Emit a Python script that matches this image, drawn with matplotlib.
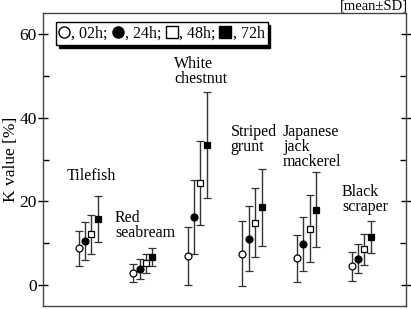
import numpy as np
import matplotlib
matplotlib.use("Agg")
import matplotlib.pyplot as plt
from matplotlib.lines import Line2D

plt.rcParams.update({"font.family": ["Liberation Serif", "DejaVu Serif"], "font.size": 11})

species = ["Tilefish", "Red\nseabream", "White\nchestnut", "Striped\ngrunt",
           "Japanese\njack\nmackerel", "Black\nscraper"]
times = ["02h", "24h", "48h", "72h"]

# K value means per species, one row per storage time
mean_02h = [8.8, 2.9, 6.9, 7.5, 6.4, 4.5]
mean_24h = [10.5, 3.9, 16.2, 11.1, 9.8, 6.3]
mean_48h = [12.1, 5.2, 24.4, 14.9, 13.5, 8.6]
mean_72h = [15.7, 6.7, 33.5, 18.6, 18.0, 11.5]

sd_02h = [4.2, 2.2, 6.9, 7.8, 5.6, 3.5]
sd_24h = [4.5, 2.4, 8.8, 7.7, 6.5, 3.5]
sd_48h = [4.6, 2.3, 10.1, 8.2, 8.0, 3.7]
sd_72h = [5.5, 2.2, 12.6, 9.2, 9.0, 3.9]

# label anchors (left x, top y) in data units
label_pos = [(0.61, 28.0), (1.49, 18.0), (2.57, 54.8), (3.61, 38.5), (4.57, 38.5), (5.65, 24.2)]

means = [mean_02h, mean_24h, mean_48h, mean_72h]
sds = [sd_02h, sd_24h, sd_48h, sd_72h]
styles = [("o", "white"), ("o", "black"), ("s", "white"), ("s", "black")]
offsets = [-0.175, -0.06, 0.055, 0.175]

fig = plt.figure(figsize=(4.11, 3.09), dpi=100)
ax = fig.add_axes([0.1046, 0.0097, 0.883, 0.948])

x = np.arange(1, len(species) + 1)
for m, s, (mk, fc), off in zip(means, sds, styles, offsets):
    ax.errorbar(x + off, m, yerr=s, fmt=mk, ms=5, mfc=fc, mec="black", mew=0.9,
                ecolor="#333333", elinewidth=1.0, capsize=2.8, capthick=1.0, zorder=3)

for name, (lx, ly) in zip(species, label_pos):
    ax.text(lx, ly, name, ha="left", va="top", fontsize=11.5, linespacing=0.92)

ax.set_xlim(0.17, 6.82)
ax.set_ylim(-5, 65)
ax.set_xticks([])
ax.set_yticks([0, 20, 40, 60])
ax.set_yticks([10, 30, 50], minor=True)
ax.tick_params(axis="y", which="major", direction="inout", length=7, width=1,
               labelsize=12.5, right=True, pad=1)
ax.tick_params(axis="y", which="minor", direction="in", length=4, width=1, right=True)
ax.set_ylabel("K value [%]", fontsize=12.5)
ax.yaxis.set_label_coords(-0.066, 0.5)
for sp in ax.spines.values():
    sp.set_color("#444444")
    sp.set_linewidth(1.0)

handles = [Line2D([], [], ls="none", marker=mk, ms=8, mfc=fc, mec="black", mew=1.0)
           for mk, fc in styles]
labels = [", %s;" % t if i < 3 else ", %s" % t for i, t in enumerate(times)]
leg = ax.legend(handles, labels, ncol=4, loc="upper left", bbox_to_anchor=(0.037, 0.968),
                fontsize=11.5, frameon=True, fancybox=False,
                shadow={"ox": 2, "oy": -2, "color": "black", "alpha": 1},
                edgecolor="black", framealpha=1, handlelength=0.55, handletextpad=0.18,
                columnspacing=0.35, borderpad=0.2, borderaxespad=0)
leg.get_frame().set_linewidth(1.0)

ax.text(1.005, 1.003, "[mean\u00b1SD]", transform=ax.transAxes, ha="right", va="bottom",
        fontsize=10.5, family=["Liberation Serif", "DejaVu Sans"])

fig.savefig("out.png", dpi=100)
